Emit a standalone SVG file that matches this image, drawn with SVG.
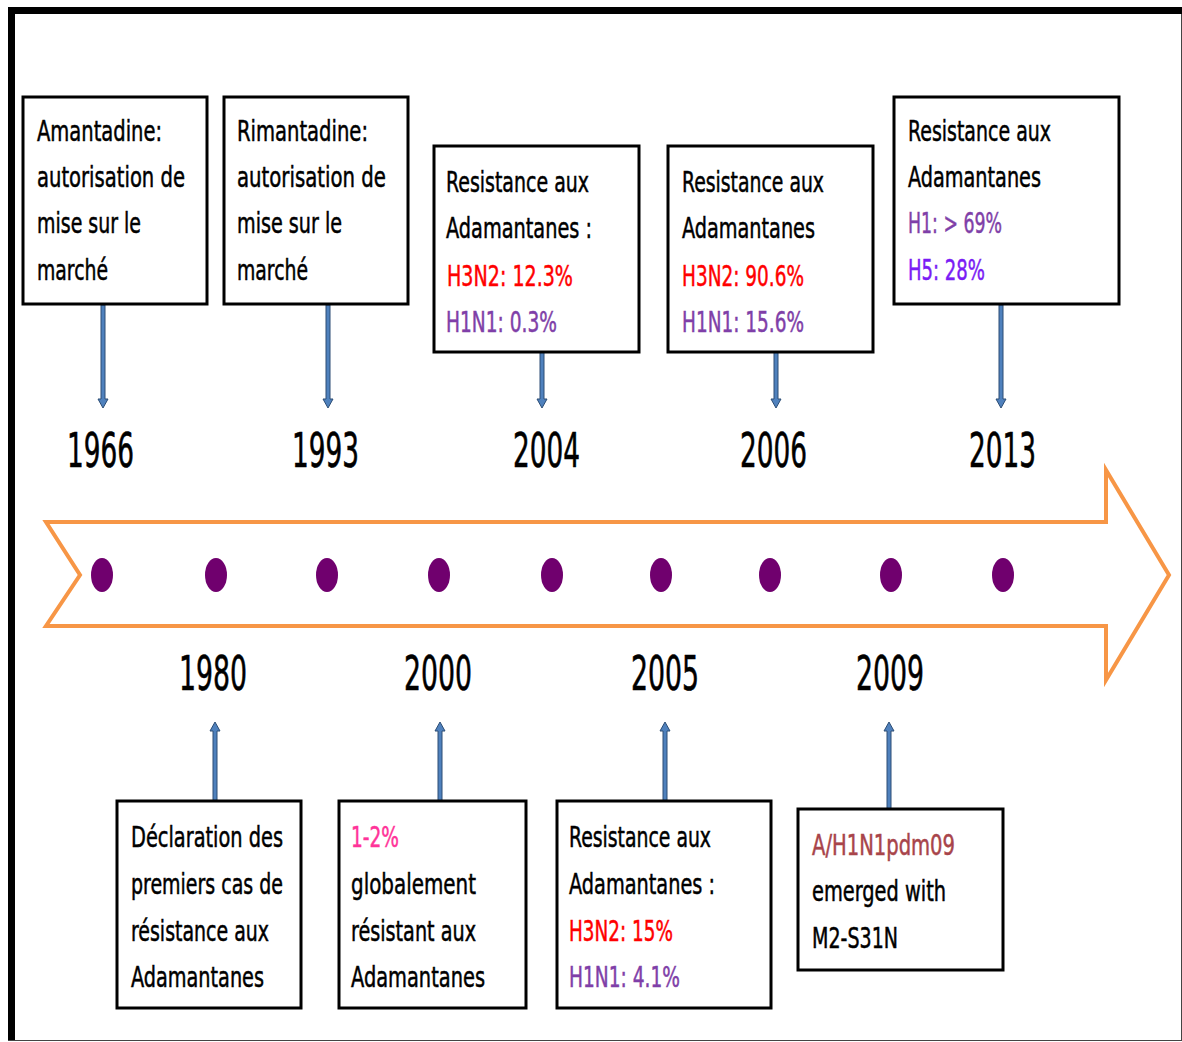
<svg xmlns="http://www.w3.org/2000/svg" width="1182" height="1042" viewBox="0 0 1182 1042">
<style>
.box{fill:#fff;stroke:#000;stroke-width:3}
.t{font-family:"Liberation Sans Narrow","DejaVu Sans Condensed","Liberation Sans",sans-serif;font-size:29px;fill:#000;stroke:#000;stroke-width:0.5}
.yr{font-family:"Liberation Sans Narrow","DejaVu Sans Condensed","Liberation Sans",sans-serif;font-size:48px;fill:#000;stroke:#000;stroke-width:0.6}
.red{fill:#FF0000;stroke:#FF0000}
.pur{fill:#7F3FA8;stroke:#7F3FA8}
.vio{fill:#7A1CF5;stroke:#7A1CF5}
.pink{fill:#FF3399;stroke:#FF3399}
.brn{fill:#A8444A;stroke:#A8444A}
.conn{fill:#4F81BD;stroke:#2C4D75;stroke-width:1}
.dot{fill:#70006E}
</style>
<rect x="0" y="0" width="1182" height="1042" fill="#fff"/>
<g id="frame">
<rect x="8" y="7" width="1174" height="7" fill="#000"/>
<rect x="8" y="7" width="7" height="1034" fill="#000"/>
<line x1="1181.5" y1="14" x2="1181.5" y2="1041" stroke="#444" stroke-width="1"/>
<line x1="8" y1="1040.5" x2="1182" y2="1040.5" stroke="#444" stroke-width="1"/>
</g>
<g id="timeline">
<polygon points="46,522 1106,522 1106,470 1169,575 1106,680 1106,626 46,626 80,575" fill="#fff" stroke="#F79646" stroke-width="4" stroke-linejoin="miter"/>
<ellipse class="dot" cx="102" cy="575" rx="11" ry="17"/>
<ellipse class="dot" cx="216" cy="575" rx="11" ry="17"/>
<ellipse class="dot" cx="327" cy="575" rx="11" ry="17"/>
<ellipse class="dot" cx="439" cy="575" rx="11" ry="17"/>
<ellipse class="dot" cx="552" cy="575" rx="11" ry="17"/>
<ellipse class="dot" cx="661" cy="575" rx="11" ry="17"/>
<ellipse class="dot" cx="770" cy="575" rx="11" ry="17"/>
<ellipse class="dot" cx="891" cy="575" rx="11" ry="17"/>
<ellipse class="dot" cx="1003" cy="575" rx="11" ry="17"/>
</g>
<g id="years">
<text class="yr" x="67" y="467" textLength="67" lengthAdjust="spacingAndGlyphs">1966</text>
<text class="yr" x="292" y="467" textLength="67" lengthAdjust="spacingAndGlyphs">1993</text>
<text class="yr" x="513" y="467" textLength="67" lengthAdjust="spacingAndGlyphs">2004</text>
<text class="yr" x="740" y="467" textLength="67" lengthAdjust="spacingAndGlyphs">2006</text>
<text class="yr" x="969" y="467" textLength="67" lengthAdjust="spacingAndGlyphs">2013</text>
<text class="yr" x="179" y="690" textLength="68" lengthAdjust="spacingAndGlyphs">1980</text>
<text class="yr" x="404" y="690" textLength="68" lengthAdjust="spacingAndGlyphs">2000</text>
<text class="yr" x="631" y="690" textLength="68" lengthAdjust="spacingAndGlyphs">2005</text>
<text class="yr" x="856" y="690" textLength="68" lengthAdjust="spacingAndGlyphs">2009</text>
</g>
<g id="connectors">
<polygon class="conn" points="101,305 105,305 105,399 108,399 103,408 98,399 101,399"/>
<polygon class="conn" points="326,305 330,305 330,399 333,399 328,408 323,399 326,399"/>
<polygon class="conn" points="540,352 544,352 544,399 547,399 542,408 537,399 540,399"/>
<polygon class="conn" points="774,352 778,352 778,399 781,399 776,408 771,399 774,399"/>
<polygon class="conn" points="999,305 1003,305 1003,399 1006,399 1001,408 996,399 999,399"/>
<polygon class="conn" points="213,801 217,801 217,731 220,731 215,722 210,731 213,731"/>
<polygon class="conn" points="438,801 442,801 442,731 445,731 440,722 435,731 438,731"/>
<polygon class="conn" points="663,801 667,801 667,731 670,731 665,722 660,731 663,731"/>
<polygon class="conn" points="887,809 891,809 891,731 894,731 889,722 884,731 887,731"/>
</g>
<g id="n1966">
<rect class="box" x="23" y="97" width="184" height="207"/>
<text class="t" x="37" y="141" textLength="125" lengthAdjust="spacingAndGlyphs">Amantadine:</text>
<text class="t" x="37" y="187" textLength="148" lengthAdjust="spacingAndGlyphs">autorisation de</text>
<text class="t" x="37" y="233" textLength="104" lengthAdjust="spacingAndGlyphs">mise sur le</text>
<text class="t" x="37" y="280" textLength="71" lengthAdjust="spacingAndGlyphs">marché</text>
</g>
<g id="n1993">
<rect class="box" x="224" y="97" width="184" height="207"/>
<text class="t" x="237" y="141" textLength="131" lengthAdjust="spacingAndGlyphs">Rimantadine:</text>
<text class="t" x="237" y="187" textLength="149" lengthAdjust="spacingAndGlyphs">autorisation de</text>
<text class="t" x="237" y="233" textLength="105" lengthAdjust="spacingAndGlyphs">mise sur le</text>
<text class="t" x="237" y="280" textLength="71" lengthAdjust="spacingAndGlyphs">marché</text>
</g>
<g id="n2004">
<rect class="box" x="434" y="146" width="205" height="206"/>
<text class="t" x="446" y="192" textLength="143" lengthAdjust="spacingAndGlyphs">Resistance aux</text>
<text class="t" x="446" y="238" textLength="146" lengthAdjust="spacingAndGlyphs">Adamantanes :</text>
<text class="t red" x="447" y="286" textLength="126" lengthAdjust="spacingAndGlyphs">H3N2: 12.3%</text>
<text class="t pur" x="446" y="332" textLength="111" lengthAdjust="spacingAndGlyphs">H1N1: 0.3%</text>
</g>
<g id="n2006">
<rect class="box" x="668" y="146" width="205" height="206"/>
<text class="t" x="682" y="192" textLength="142" lengthAdjust="spacingAndGlyphs">Resistance aux</text>
<text class="t" x="682" y="238" textLength="133" lengthAdjust="spacingAndGlyphs">Adamantanes</text>
<text class="t red" x="682" y="286" textLength="122" lengthAdjust="spacingAndGlyphs">H3N2: 90.6%</text>
<text class="t pur" x="682" y="332" textLength="122" lengthAdjust="spacingAndGlyphs">H1N1: 15.6%</text>
</g>
<g id="n2013">
<rect class="box" x="894" y="97" width="225" height="207"/>
<text class="t" x="908" y="141" textLength="143" lengthAdjust="spacingAndGlyphs">Resistance aux</text>
<text class="t" x="908" y="187" textLength="133" lengthAdjust="spacingAndGlyphs">Adamantanes</text>
<text class="t pur" x="908" y="233" textLength="94" lengthAdjust="spacingAndGlyphs">H1: &gt; 69%</text>
<text class="t vio" x="908" y="280" textLength="77" lengthAdjust="spacingAndGlyphs">H5: 28%</text>
</g>
<g id="n1980">
<rect class="box" x="117" y="801" width="184" height="207"/>
<text class="t" x="131" y="847" textLength="152" lengthAdjust="spacingAndGlyphs">Déclaration des</text>
<text class="t" x="131" y="894" textLength="152" lengthAdjust="spacingAndGlyphs">premiers cas de</text>
<text class="t" x="131" y="941" textLength="138" lengthAdjust="spacingAndGlyphs">résistance aux</text>
<text class="t" x="131" y="987" textLength="133" lengthAdjust="spacingAndGlyphs">Adamantanes</text>
</g>
<g id="n2000">
<rect class="box" x="339" y="801" width="187" height="207"/>
<text class="t pink" x="351" y="847" textLength="48" lengthAdjust="spacingAndGlyphs">1-2%</text>
<text class="t" x="351" y="894" textLength="125" lengthAdjust="spacingAndGlyphs">globalement</text>
<text class="t" x="351" y="941" textLength="125" lengthAdjust="spacingAndGlyphs">résistant aux</text>
<text class="t" x="351" y="987" textLength="134" lengthAdjust="spacingAndGlyphs">Adamantanes</text>
</g>
<g id="n2005">
<rect class="box" x="557" y="801" width="214" height="207"/>
<text class="t" x="569" y="847" textLength="142" lengthAdjust="spacingAndGlyphs">Resistance aux</text>
<text class="t" x="569" y="894" textLength="146" lengthAdjust="spacingAndGlyphs">Adamantanes :</text>
<text class="t red" x="569" y="941" textLength="104" lengthAdjust="spacingAndGlyphs">H3N2: 15%</text>
<text class="t pur" x="569" y="987" textLength="111" lengthAdjust="spacingAndGlyphs">H1N1: 4.1%</text>
</g>
<g id="n2009">
<rect class="box" x="798" y="809" width="205" height="161"/>
<text class="t brn" x="812" y="855" textLength="143" lengthAdjust="spacingAndGlyphs">A/H1N1pdm09</text>
<text class="t" x="812" y="901" textLength="134" lengthAdjust="spacingAndGlyphs">emerged with</text>
<text class="t" x="812" y="948" textLength="86" lengthAdjust="spacingAndGlyphs">M2-S31N</text>
</g>
</svg>
